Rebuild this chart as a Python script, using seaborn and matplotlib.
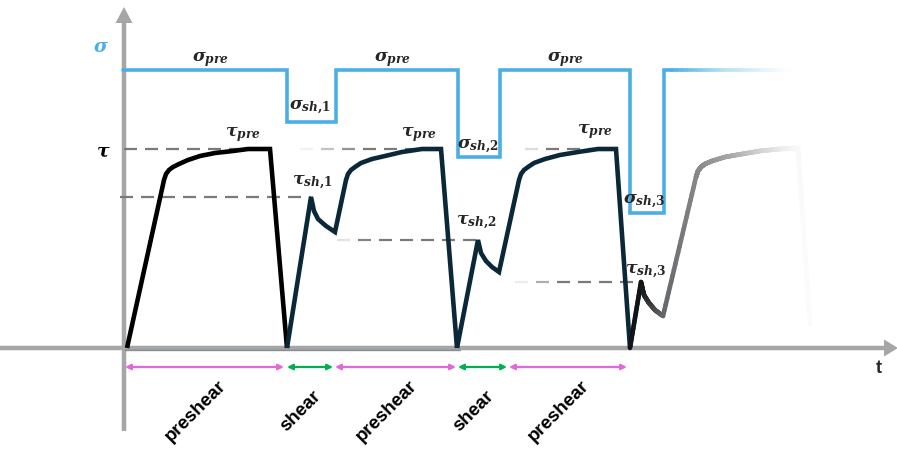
import numpy as np
import pandas as pd
import matplotlib
matplotlib.use("Agg")
import matplotlib.pyplot as plt
from matplotlib.collections import LineCollection
from matplotlib.colors import to_rgb
import seaborn as sns

# ---------------- data ----------------
# stress levels (arbitrary units)
sigma_pre = 278
sigma_sh = [226, 191, 135]
tau_pre = 199
tau_sh = [151, 108, 66]

# normal stress programme: step times and the level that holds from each time on
sigma_t = [-2, 162, 211, 333, 375, 505, 539, 665]
sigma_v = [sigma_pre, sigma_sh[0], sigma_pre, sigma_sh[1], sigma_pre, sigma_sh[2], sigma_pre, sigma_pre]

# shear stress response, one cycle at a time
tau1_t = [2, 39, 41, 44, 48, 54, 63, 75, 90, 108, 123, 145, 162]
tau1_v = [0, 168, 174, 178, 181, 184, 188, 192, 195, 197, 199, 199, 0]
tau2_t = [162, 186, 189, 193, 201, 210, 221, 223, 226, 230, 236, 247, 260, 277, 297, 316, 332]
tau2_v = [0, 151, 137, 129, 122, 116, 168, 174, 178, 181, 185, 189, 192, 196, 199, 199, 0]
tau3_t = [332, 353, 356, 361, 367, 374, 394, 396, 399, 403, 409, 420, 435, 453, 473, 491, 505]
tau3_v = [0, 108, 95, 87, 81, 76, 168, 174, 178, 181, 185, 189, 193, 196, 199, 199, 0]
tau4_t = [505, 516, 519, 524, 530, 538, 571, 573, 576, 580, 587, 600, 617, 635, 655, 673, 685]
tau4_v = [0, 66, 53, 45, 38, 32, 171, 177, 181, 184, 187, 191, 194, 197, 199, 200, 24]

# test phases
phase_names = ["preshear", "shear", "preshear", "shear", "preshear"]
phase_start = [0, 162, 210, 333, 384]
phase_end = [159, 208, 331, 382, 502]

# ---------------- style ----------------
BLUE = "#4aafe3"
NAVY = "#0b2838"
AXIS = "#a6a6a6"
DASH = "#7a7a7a"
PINK = "#e06ad8"
GREEN = "#00b050"

sns.set_style("white")
plt.rcParams["font.family"] = ["Liberation Sans", "DejaVu Sans"]
plt.rcParams["mathtext.fontset"] = "custom"
plt.rcParams["mathtext.it"] = "DejaVu Serif:italic:bold"
plt.rcParams["mathtext.rm"] = "DejaVu Serif:bold"
plt.rcParams["mathtext.bf"] = "DejaVu Serif:bold"

fig = plt.figure(figsize=(8.97, 4.52), dpi=100)
ax = fig.add_axes([0, 0, 1, 1])
ax.set_xlim(-125, 772)
ax.set_ylim(-103, 349)
ax.axis("off")


def blend(color, f):
    c = np.array(to_rgb(color))
    return tuple(c + (1.0 - c) * f)


def faded_line(t, v, color, fade_t, fade_f, lw, z, pieces=24):
    segs, cols = [], []
    for i in range(len(t) - 1):
        xs = np.linspace(t[i], t[i + 1], pieces + 1)
        ys = np.linspace(v[i], v[i + 1], pieces + 1)
        for k in range(pieces):
            segs.append([(xs[k], ys[k]), (xs[k + 1], ys[k + 1])])
            cols.append(blend(color, np.interp(0.5 * (xs[k] + xs[k + 1]), fade_t, fade_f)))
    ax.add_collection(LineCollection(segs, colors=cols, linewidths=lw,
                                     capstyle="round", zorder=z))


def dashed_ref(level, t0, t1, ramp, dash=13, gap=8, lw=1.6):
    segs, cols = [], []
    x = t0
    while x < t1:
        xe = min(x + dash, t1)
        segs.append([(x, level), (xe, level)])
        a = 1.0 if ramp == 0 else float(np.clip((0.5 * (x + xe) - t0) / ramp, 0.08, 1.0))
        cols.append(blend(DASH, 1.0 - a))
        x = xe + gap
    ax.add_collection(LineCollection(segs, colors=cols, linewidths=lw,
                                     capstyle="butt", zorder=2))


# axes arrows
ax.arrow(-125, 0, 898, 0, width=4.5, head_width=17, head_length=14,
         length_includes_head=True, color=AXIS, lw=0, zorder=1)
ax.arrow(-1, -83, 0, 424, width=4.5, head_width=17, head_length=16,
         length_includes_head=True, color=AXIS, lw=0, zorder=1)
ax.plot([0, 335], [-2.2, -2.2], color="#5d6770", lw=1.0, alpha=0.7, zorder=1)

# dashed reference levels
dashed_ref(tau_pre, -1, 145, 0)
dashed_ref(tau_pre, 175, 316, 60)
dashed_ref(tau_pre, 400, 491, 25)
dashed_ref(tau_sh[0], -5, tau2_t[1], 0)
dashed_ref(tau_sh[1], 212, tau3_t[1], 30)
dashed_ref(tau_sh[2], 390, tau4_t[1], 45)

# normal stress steps
fade_start = 547
main_t = sigma_t[:7] + [fade_start]
main_v = sigma_v[:7] + [sigma_pre]
sns.lineplot(x=main_t, y=main_v, ax=ax, color=BLUE, lw=2.6, estimator=None,
             sort=False, drawstyle="steps-post", solid_joinstyle="miter", zorder=3)
faded_line([fade_start, sigma_t[-1]], [sigma_pre, sigma_pre], BLUE,
           [fade_start, 600, sigma_t[-1]], [0.0, 0.6, 1.0], 2.6, 3)

# shear stress response
tau = pd.concat([
    pd.DataFrame({"t": tau1_t, "tau": tau1_v, "cycle": "1"}),
    pd.DataFrame({"t": tau2_t, "tau": tau2_v, "cycle": "2"}),
    pd.DataFrame({"t": tau3_t, "tau": tau3_v, "cycle": "3"}),
])
sns.lineplot(data=tau, x="t", y="tau", hue="cycle", units="cycle", estimator=None,
             sort=False, palette={"1": "#000000", "2": NAVY, "3": NAVY},
             lw=3.3, legend=False, ax=ax, zorder=4,
             solid_joinstyle="miter", solid_capstyle="butt")
faded_line(tau4_t, tau4_v, "#101418",
           [516, 538, 575, 605, 635, 660, 675, 690], [0.0, 0.35, 0.5, 0.62, 0.8, 0.93, 0.975, 0.99],
           3.3, 4)

# phase arrows and labels
for name, a, b in zip(phase_names, phase_start, phase_end):
    col = PINK if name == "preshear" else GREEN
    ax.annotate("", xy=(b, -19), xytext=(a, -19),
                arrowprops=dict(arrowstyle="<|-|>", color=col, lw=1.6,
                                mutation_scale=8, shrinkA=0, shrinkB=0), zorder=3)
    ax.text(0.5 * (a + b) - 9, -62, name, rotation=45, ha="center", va="center",
            fontsize=13.5, fontweight="bold", color="black")

# stress labels
ms = 12.5
for x in [85, 267, 440]:
    ax.text(x, 289, r"$\sigma_{pre}$", ha="center", va="center", fontsize=ms)
for x, y in [(118, 214), (294, 214), (470, 217)]:
    ax.text(x, y, r"$\tau_{pre}$", ha="center", va="center", fontsize=ms)
for i, (x, y) in enumerate([(185, 241), (353, 202), (519, 147)]):
    ax.text(x, y, r"$\sigma_{sh{,}%d}$" % (i + 1), ha="center", va="center", fontsize=ms)
for i, (x, y) in enumerate([(187, 166), (351, 126), (521, 77)]):
    ax.text(x, y, r"$\tau_{sh{,}%d}$" % (i + 1), ha="center", va="center", fontsize=ms)

ax.text(-24, 302, r"$\sigma$", ha="center", va="center", fontsize=ms + 1, color=BLUE)
ax.text(-22, 197, r"$\tau$", ha="center", va="center", fontsize=ms + 1, color="black")
ax.text(754, -20, "t", ha="center", va="center", fontsize=13, fontweight="bold")

fig.savefig("out.png", dpi=100)
